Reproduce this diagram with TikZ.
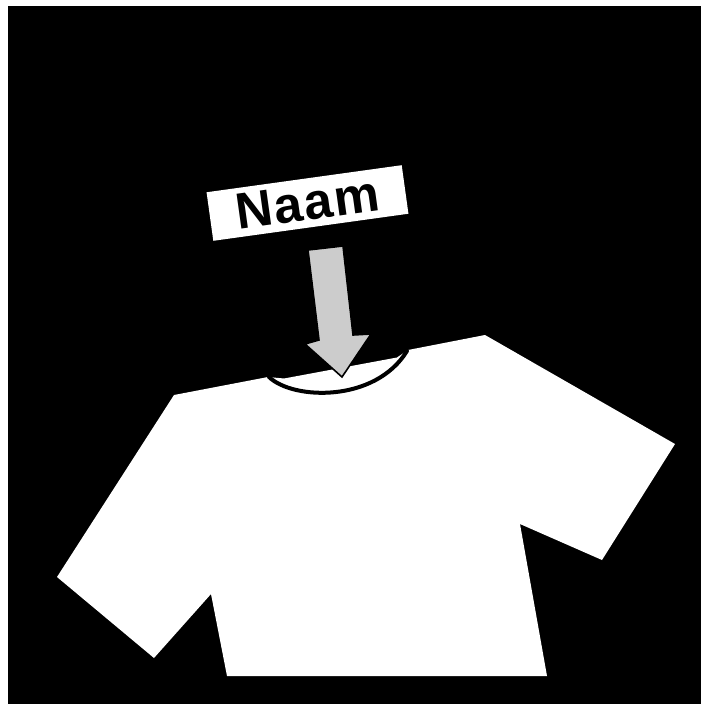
\documentclass[tikz,border=0pt]{standalone}
\usepackage{fontspec}
\setmainfont{Liberation Sans}
\newfontfamily\labelfont[LetterSpace=3]{Liberation Sans Bold}
\tikzset{
  shirt/.style={fill=white,draw=none},
  collar/.style={draw=black,line width=4pt,line cap=round},
  pointer/.style={fill=black!20,draw=black,line width=1.6pt,line join=miter},
  namebox/.style={fill=white,draw=none,minimum width=197pt,minimum height=49pt,inner sep=0pt,rotate=7.9,font=\labelfont\fontsize{51}{51}\selectfont}
}
\begin{document}
\begin{tikzpicture}[x=1pt,y=-1pt]
\useasboundingbox (0,0) rectangle (701,704);
\fill[white] (0,0) rectangle (701,704);
\fill[black] (8,6) rectangle (701,704);
\fill[shirt] (174,395) -- (268,377) -- (284,378.5) -- (397,357.5) -- (408,350) -- (485,335) -- (675,444) -- (602,560) -- (520,524) -- (547,676) -- (227,676) -- (211,594) -- (154,658) -- (57,577) -- cycle;
\draw[collar] (269,377) .. controls (293,400) and (375,403) .. (407,351);
\draw[pointer] (308,250) -- (343,246) -- (353,335) -- (371,334) -- (342,377) -- (305,344) -- (319,340) -- cycle;
\node[namebox] (name) at (307.5,203) {Naam};
\end{tikzpicture}
\end{document}
